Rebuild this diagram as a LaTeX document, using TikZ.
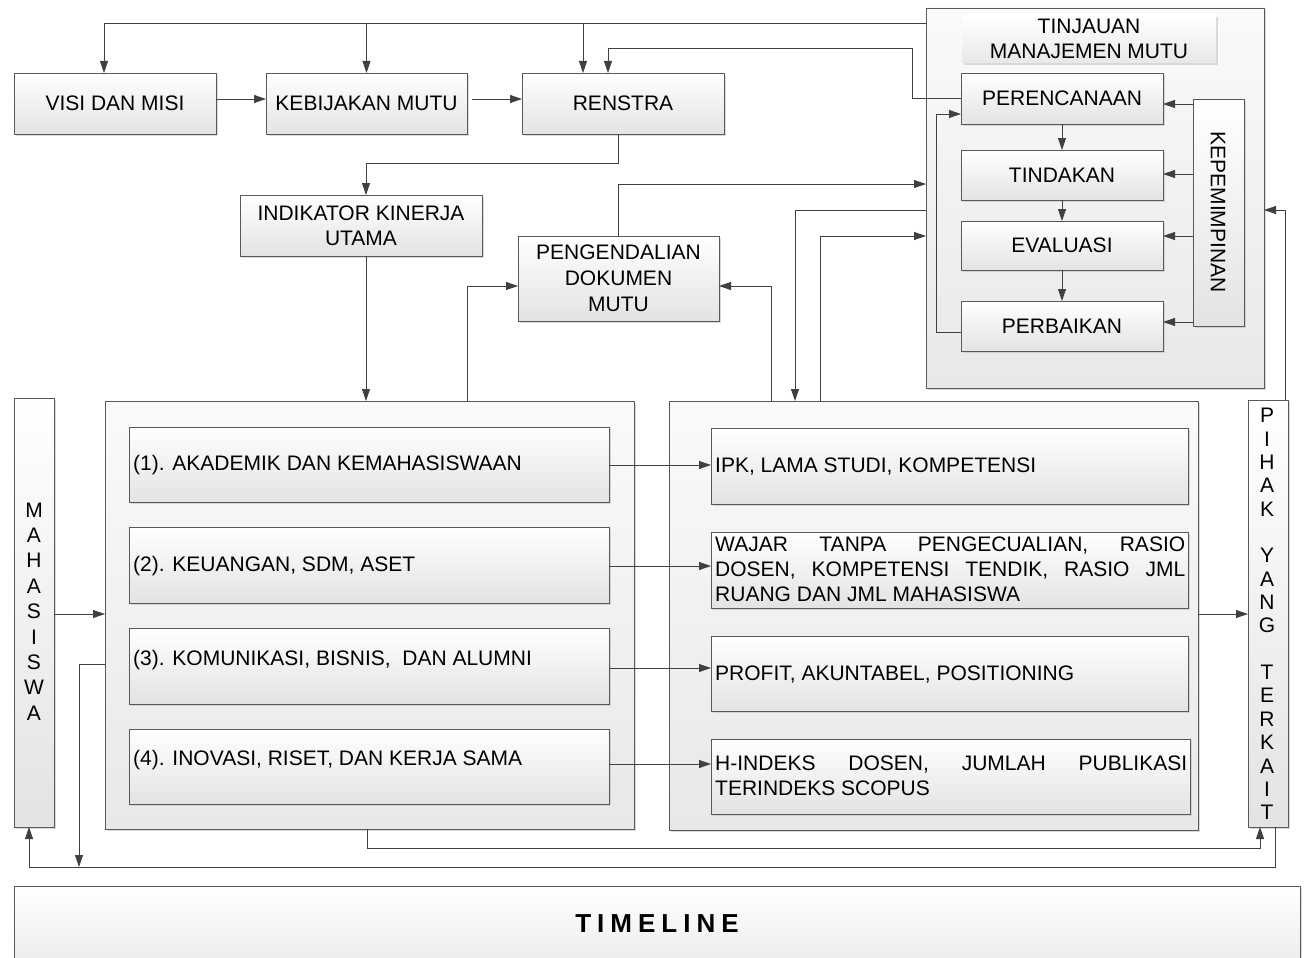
\documentclass[tikz,border=0pt]{standalone}
\usepackage{fontspec}
\setmainfont{Liberation Sans}
\usetikzlibrary{arrows.meta,shadows}
\newcommand\fsz{\fontsize{21}{25}\selectfont}
\tikzset{
  ln/.style={draw=black!75, line width=0.8pt},
  arr/.style={ln, -{Triangle[length=12pt,width=8pt]}},
  bx/.style={draw=black!65, line width=0.8pt, top color=white, bottom color=black!11,
    drop shadow={shadow xshift=2pt, shadow yshift=-2pt, fill=black!28},
    inner sep=0pt, outer sep=0pt, anchor=north west, align=center, font=\fsz},
  bigbx/.style={bx, top color=black!2, bottom color=black!9},
  ttlbx/.style={bx, draw=none, top color=white, bottom color=black!9,
    drop shadow={shadow xshift=2pt, shadow yshift=-2pt, fill=black!15}},
  txt/.style={inner sep=0pt, font=\fsz},
}
\begin{document}
\begin{tikzpicture}[x=1pt,y=-1pt]
\useasboundingbox (0,0) rectangle (1307,958);

% ---- top row
\node[bx, minimum width=202pt, minimum height=61pt] (visi) at (14,73) {VISI DAN MISI};
\node[bx, minimum width=201pt, minimum height=61pt] (keb) at (266,73) {KEBIJAKAN MUTU};
\node[bx, minimum width=202pt, minimum height=61pt] (ren) at (522,73) {RENSTRA};
\node[bx, minimum width=242pt, minimum height=61pt] (iku) at (240,195) {INDIKATOR KINERJA\\UTAMA};
\node[bx, minimum width=201pt, minimum height=85pt, font=\fontsize{21}{26}\selectfont] (pdm) at (518,236) {PENGENDALIAN\\DOKUMEN\\MUTU};

% ---- tinjauan
\node[bigbx, minimum width=338pt, minimum height=380pt] (tinj) at (926,8) {};
\node[ttlbx, minimum width=254pt, minimum height=48pt] (ttl) at (962,15) {TINJAUAN\\MANAJEMEN MUTU};
\node[bx, minimum width=202pt, minimum height=51pt] (per) at (961,73) {PERENCANAAN};
\node[bx, minimum width=202pt, minimum height=50pt] (tin) at (961,150) {TINDAKAN};
\node[bx, minimum width=202pt, minimum height=49pt] (eva) at (961,221) {EVALUASI};
\node[bx, minimum width=202pt, minimum height=50pt] (perb) at (961,301) {PERBAIKAN};
\node[bx, minimum width=51pt, minimum height=227pt] (kep) at (1193,99) {};
\node[txt, rotate=-90] (kept) at (1218,212) {KEPEMIMPINAN};

% ---- side columns
\node[bx, minimum width=40pt, minimum height=429pt] (maha) at (14,398) {};
\node[txt, align=center, font=\fontsize{21}{25.4}\selectfont] (mahat) at (34,611.5) {M\\A\\H\\A\\S\\I\\S\\W\\A};
\node[bx, minimum width=40pt, minimum height=427pt] (pihak) at (1248,400) {};
\node[txt, align=center, font=\fontsize{21}{23.35}\selectfont] (pihakt) at (1267,614) {P\\I\\H\\A\\K\\~\\Y\\A\\N\\G\\~\\T\\E\\R\\K\\A\\I\\T};

% ---- left big box
\node[bigbx, minimum width=529pt, minimum height=428pt] (lbig) at (105,401) {};
\node[bx, minimum width=480pt, minimum height=75pt] (l1) at (129,427) {};
\node[bx, minimum width=480pt, minimum height=76pt] (l2) at (129,527) {};
\node[bx, minimum width=480pt, minimum height=76pt] (l3) at (129,628) {};
\node[bx, minimum width=480pt, minimum height=75pt] (l4) at (129,729) {};
\node[txt, anchor=base west] (l1t) at (133,470.5) {(1). AKADEMIK DAN KEMAHASISWAAN};
\node[txt, anchor=base west] (l2t) at (133,571.5) {(2). KEUANGAN, SDM, ASET};
\node[txt, anchor=base west] (l3t) at (133,665.5) {(3). KOMUNIKASI, BISNIS, \ DAN ALUMNI};
\node[txt, anchor=base west] (l4t) at (133,765.5) {(4). INOVASI, RISET, DAN KERJA SAMA};

% ---- right big box
\node[bigbx, minimum width=529pt, minimum height=429pt] (rbig) at (669,401) {};
\node[bx, minimum width=477pt, minimum height=76pt] (r1) at (711,428) {};
\node[bx, minimum width=477pt, minimum height=76pt] (r2) at (711,532) {};
\node[bx, minimum width=477pt, minimum height=75pt] (r3) at (711,636) {};
\node[bx, minimum width=479pt, minimum height=75pt] (r4) at (711,739) {};
\node[txt, anchor=base west] (r1t) at (715,472.5) {IPK, LAMA STUDI, KOMPETENSI};
\node[txt, anchor=north west, align=left] (r2t) at (715,536.5)
  {\makebox[470pt][s]{WAJAR TANPA PENGECUALIAN, RASIO}\\
   \makebox[470pt][s]{DOSEN, KOMPETENSI TENDIK, RASIO JML}\\
   RUANG DAN JML MAHASISWA};
\node[txt, anchor=base west] (r3t) at (715,680.5) {PROFIT, AKUNTABEL, POSITIONING};
\node[txt, anchor=north west, align=left] (r4t) at (715,755.5)
  {\makebox[472pt][s]{H-INDEKS DOSEN, JUMLAH PUBLIKASI}\\
   TERINDEKS SCOPUS};

% ---- timeline
\node[bx, minimum width=1286pt, minimum height=76pt, top color=white, bottom color=black!7] (tl) at (14,886) {};
\node[txt, font=\fontsize{26}{30}\selectfont\bfseries] (tlt) at (657,924)
  {T\kern6pt I\kern6pt M\kern6pt E\kern6pt L\kern6pt I\kern6pt N\kern6pt E};

% ---- connectors: top row
\coordinate (ay) at (240,99);
\draw[arr] (visi.east |- ay) -- (keb.west |- ay);
\draw[arr] ([xshift=5pt]keb.east |- ay) -- (ren.west |- ay);

\coordinate (ta) at (104,23);
\coordinate (tc) at (583,23);
\draw[ln] (tinj.west |- ta) -- (ta);
\draw[arr] (ta) -- (ta |- visi.north);
\draw[arr] (keb.north |- ta) -- (keb.north);
\draw[arr] (tc) -- (tc |- ren.north);

\coordinate (pb) at (912,48);
\coordinate (pc) at (608,48);
\draw[arr] (per.west) -| (pb) -- (pc) -- (pc |- ren.north);

\coordinate (rs) at (618,163);
\coordinate (ri) at (366,163);
\draw[arr] (rs |- ren.south) -- (rs) -- (ri) -- (ri |- iku.north);
\draw[arr] (ri |- iku.south) -- (ri |- lbig.north);

% ---- PDM connectors
\coordinate (lp) at (467,286);
\coordinate (rp) at (771,286);
\draw[arr] (lp |- lbig.north) -- (lp) -- (lp -| pdm.west);
\draw[arr] (rp |- rbig.north) -- (rp) -- (rp -| pdm.east);
\coordinate (pt) at (618,184);
\draw[arr] (pt |- pdm.north) -- (pt) -- (pt -| tinj.west);
\coordinate (tr) at (795,210);
\draw[arr] (tr -| tinj.west) -- (tr) -- (tr |- rbig.north);
\coordinate (rt) at (820,236);
\draw[arr] (rt |- rbig.north) -- (rt) -- (rt -| tinj.west);

% ---- PDCA cycle
\draw[arr] (per.south) -- (tin.north);
\draw[arr] (tin.south) -- (eva.north);
\draw[arr] (eva.south) -- (perb.north);
\coordinate (fb) at (936,332);
\coordinate (ft) at (936,114);
\draw[arr] (fb -| perb.west) -- (fb) -- (ft) -- (ft -| per.west);
\coordinate (k1) at (1180,104);
\coordinate (k2) at (1180,174);
\coordinate (k3) at (1180,236);
\coordinate (k4) at (1180,322);
\draw[arr] (kep.west |- k1) -- (per.east |- k1);
\draw[arr] (kep.west |- k2) -- (tin.east |- k2);
\draw[arr] (kep.west |- k3) -- (eva.east |- k3);
\draw[arr] (kep.west |- k4) -- (perb.east |- k4);

\coordinate (pk) at (1285,210);
\draw[arr] (pk |- pihak.north) -- (pk) -- (pk -| tinj.east);

% ---- inner arrows
\coordinate (a1) at (660,465);
\coordinate (a2) at (660,566);
\coordinate (a3) at (660,668);
\coordinate (a4) at (660,764);
\draw[arr] (l1.east |- a1) -- (r1.west |- a1);
\draw[arr] (l2.east |- a2) -- (r2.west |- a2);
\draw[arr] (l3.east |- a3) -- (r3.west |- a3);
\draw[arr] (l4.east |- a4) -- (r4.west |- a4);

\coordinate (m1) at (80,614);
\coordinate (m2) at (1220,614);
\draw[arr] (maha.east |- m1) -- (lbig.west |- m1);
\draw[arr] (rbig.east |- m2) -- (pihak.west |- m2);

% ---- bottom loops
\coordinate (d1) at (79,664);
\coordinate (d2) at (79,867);
\draw[arr] (lbig.west |- d1) -- (d1) -- (d2);
\coordinate (b1) at (1275,867);
\coordinate (b2) at (29,867);
\draw[arr] (b1 |- pihak.south) -- (b1) -- (b2) -- (b2 |- maha.south);
\coordinate (c1) at (367,848);
\coordinate (c2) at (1260,848);
\draw[arr] (c1 |- lbig.south) -- (c1) -- (c2) -- (c2 |- pihak.south);
\end{tikzpicture}
\end{document}
